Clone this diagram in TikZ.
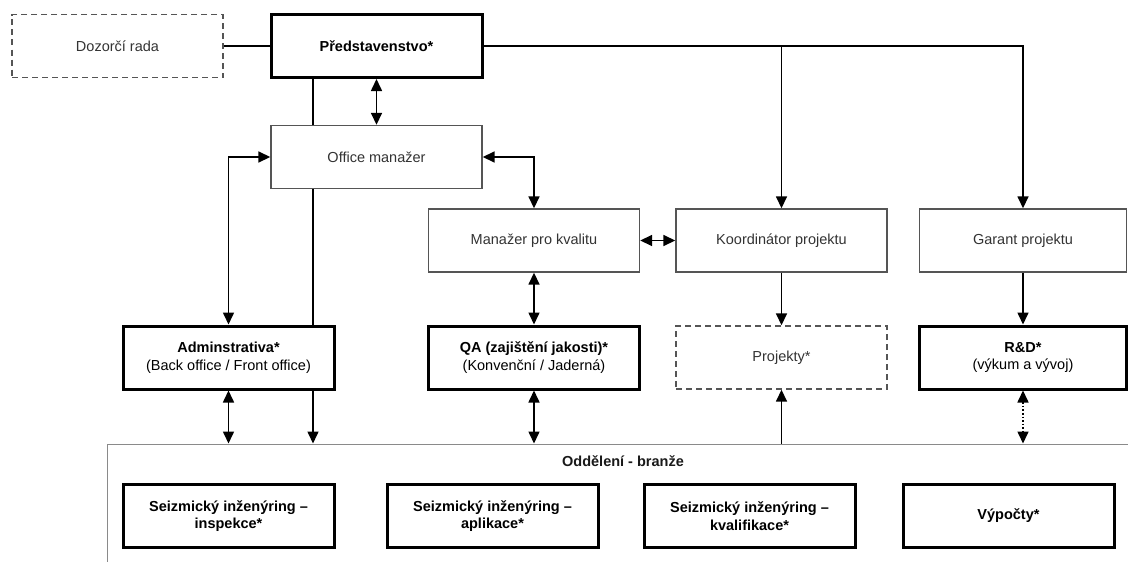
\documentclass[tikz,border=0pt]{standalone}
\usepackage{fontspec}
\setmainfont{Liberation Sans}
\usepackage{tikz}
\usetikzlibrary{arrows.meta,positioning}
\usepackage{xcolor}
\definecolor{boxgray}{HTML}{555555}
\definecolor{txtgray}{HTML}{333333}
\definecolor{areagray}{HTML}{8A8A8A}

\tikzset{
	box/.style={rectangle,draw=boxgray,fill=white,line width=1.4pt,minimum width=211pt,minimum height=63pt,align=center,text=txtgray,inner sep=2pt,font=\fontsize{14.5}{17.5}\selectfont},
	mainbox/.style={box,draw=black,line width=3pt,text=black},
	openbox/.style={box,dashed,dash pattern=on 6pt off 4pt},
	arr/.style={-{Triangle[length=12pt,width=11pt]}},
	biarr/.style={{Triangle[length=12pt,width=11pt]}-{Triangle[length=12pt,width=11pt]}},
}

\begin{document}
\begin{tikzpicture}[x=1pt,y=-1pt]
	\useasboundingbox (0,0) rectangle (1128,562);
	\node[draw=areagray,line width=1pt,minimum width=1040pt,minimum height=156pt] (oddeleni) at (627,522) {};
	\node[text=black!90,font=\bfseries\fontsize{14.5}{17.5}\selectfont] (oddlabel) at (623,461) {Oddělení - branže};
	\begin{scope}[every node/.style={box}]
		\node[openbox] (dozorci) at (117.5,46) {Dozorčí rada};
		\node[mainbox] (predst) at (376.5,46) {\textbf{Představenstvo*}};
		\node (office) at (376.5,157) {Office manažer};
		\node (manazer) at (534,240.5) {Manažer pro kvalitu};
		\node (koord) at (781.5,240.5) {Koordinátor projektu};
		\node[minimum width=207pt] (garant) at (1023,240.5) {Garant projektu};
		\node[mainbox] (admin) at (228.5,357.5) {\textbf{Adminstrativa*}\\(Back office / Front office)};
		\node[mainbox] (qa) at (534,357.5) {\textbf{QA (zajištění jakosti)*}\\(Konvenční / Jaderná)};
		\node[openbox] (projekty) at (781.5,357.5) {Projekty*};
		\node[mainbox,minimum width=207pt] (rd) at (1023,357.5) {\textbf{R\&D*}\\(výkum a vývoj)};
		\node[mainbox,font=\bfseries\fontsize{14.5}{17.5}\selectfont] (inspekce) at (228.5,516) {Seizmický inženýring –\\inspekce*};
		\node[mainbox,font=\bfseries\fontsize{14.5}{17.5}\selectfont] (aplikace) at (492.5,516) {Seizmický inženýring –\\aplikace*};
		\node[mainbox,font=\bfseries\fontsize{14.5}{17.5}\selectfont] (kvalifikace) at (749.5,516) {Seizmický inženýring –\\kvalifikace*};
		\node[mainbox,font=\bfseries\fontsize{14.5}{17.5}\selectfont] (vypocty) at (1008.5,516) {Výpočty*};
	\end{scope}
	\begin{scope}[line width=1.6pt]
		\draw (dozorci) -- (predst);
		\draw[arr] (predst.east) -| (koord.north);
		\draw[arr] (predst.east) -| (garant.north);
		\draw[biarr] (predst) -- (office);
		\draw ([xshift=-63.5pt]predst.south) -- ([xshift=-63.5pt]office.north);
		\draw[biarr] (admin.north) |- (office.west);
		\draw[biarr] (office.east) -| (manazer.north);
		\draw ([xshift=-63.5pt]office.south) -- ([xshift=-63.5pt]office.south |- admin.north);
		\draw[biarr] (manazer) -- (koord);
		\draw[biarr] (manazer) -- (qa);
		\draw[arr] (koord) -- (projekty);
		\draw[arr] (garant) -- (rd);
		\draw[biarr] (admin.south) -- (admin.south |- oddeleni.north);
		\draw[arr] ([xshift=-63.5pt]office.south |- admin.south) -- ([xshift=-63.5pt]office.south |- oddeleni.north);
		\draw[biarr] (qa.south) -- (qa.south |- oddeleni.north);
		\draw[arr] (projekty.south |- oddeleni.north) -- (projekty.south);
		\draw[biarr,dotted] (rd.south) -- (rd.south |- oddeleni.north);
	\end{scope}
\end{tikzpicture}
\end{document}
